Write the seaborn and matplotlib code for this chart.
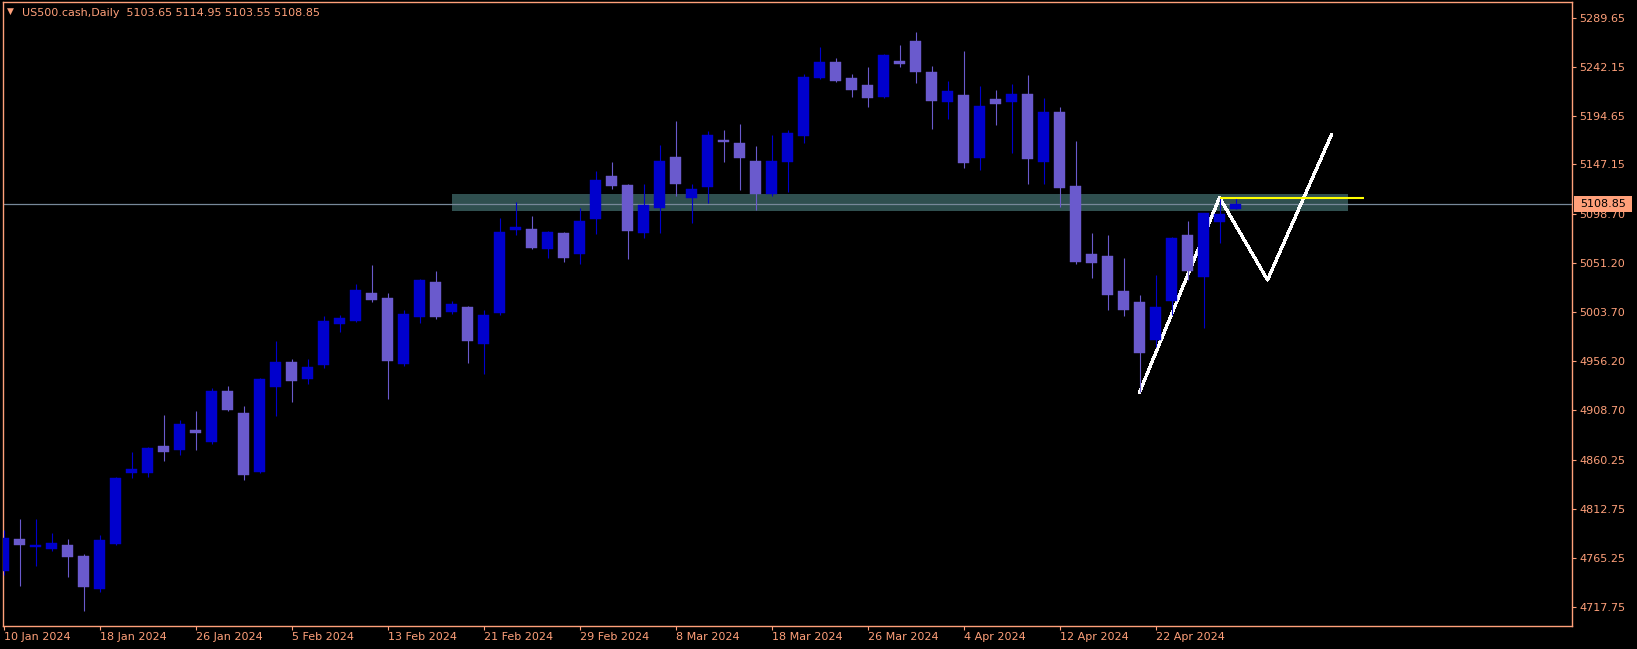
import numpy as np
import pandas as pd
import matplotlib
matplotlib.use("Agg")
import matplotlib.pyplot as plt
import matplotlib.transforms as mtransforms
from matplotlib.patches import Rectangle
from matplotlib.ticker import FixedLocator
import seaborn as sns

# ---------------- data ----------------
opens = [4752.4, 4783.4, 4775.7, 4773.7, 4777.6, 4767.0, 4734.9, 4778.6, 4847.5, 4847.5,
         4873.8, 4869.9, 4889.3, 4877.6, 4927.2, 4905.8, 4848.5, 4931.0, 4955.3, 4938.8,
         4952.4, 4992.2, 4995.2, 5022.3, 5017.5, 4953.4, 4999.0, 5033.0, 5003.9, 5008.7,
         4972.8, 5002.9, 5083.5, 5084.5, 5065.1, 5080.6, 5060.2, 5094.2, 5136.0, 5127.2,
         5080.6, 5104.9, 5154.4, 5114.6, 5125.3, 5170.9, 5168.0, 5150.5, 5118.5, 5149.6,
         5174.8, 5231.1, 5246.7, 5231.1, 5224.3, 5212.7, 5247.6, 5267.1, 5236.9, 5207.8,
         5214.6, 5153.5, 5210.7, 5207.8, 5215.6, 5149.6, 5198.1, 5126.3, 5060.2, 5058.3,
         5024.3, 5013.6, 4976.7, 5014.6, 5078.7, 5037.9, 5091.3, 5103.65]
highs = [4792.2, 4802.8, 4802.8, 4789.3, 4783.4, 4768.9, 4787.3, 4843.6, 4867.9, 4872.8,
         4903.9, 4899.0, 4907.7, 4930.1, 4932.0, 4912.6, 4939.5, 4975.7, 4958.2, 4958.2,
         5000.0, 5001.0, 5031.1, 5049.5, 5022.3, 5005.8, 5035.9, 5043.7, 5014.6, 5009.5,
         5005.8, 5095.2, 5110.7, 5097.1, 5082.5, 5081.6, 5104.9, 5140.8, 5149.6, 5128.2,
         5128.2, 5166.1, 5189.4, 5128.2, 5179.7, 5180.6, 5186.5, 5165.1, 5175.8, 5180.6,
         5235.0, 5261.3, 5250.6, 5235.0, 5241.8, 5254.5, 5263.2, 5275.8, 5242.8, 5228.2,
         5257.4, 5223.4, 5219.5, 5225.3, 5234.0, 5211.7, 5203.0, 5170.0, 5080.6, 5078.7,
         5056.3, 5020.4, 5039.8, 5076.7, 5092.3, 5100.5, 5114.6, 5114.95]
lows = [4748.5, 4737.8, 4757.2, 4771.8, 4746.5, 4713.5, 4731.9, 4778.0, 4842.7, 4843.6,
        4859.2, 4865.0, 4869.9, 4875.7, 4907.5, 4840.7, 4847.5, 4902.9, 4916.5, 4934.0,
        4949.5, 4984.5, 4994.2, 5013.6, 4919.4, 4951.4, 4993.2, 4997.1, 5001.9, 4954.4,
        4943.7, 5001.0, 5078.7, 5065.1, 5056.3, 5052.5, 5050.5, 5079.6, 5123.4, 5055.4,
        5075.8, 5080.6, 5116.5, 5090.3, 5109.7, 5149.6, 5122.4, 5102.9, 5116.5, 5120.4,
        5168.0, 5230.0, 5227.3, 5212.7, 5203.0, 5212.0, 5241.8, 5226.3, 5181.6, 5191.3,
        5143.7, 5141.8, 5185.5, 5158.3, 5128.2, 5128.2, 5105.9, 5050.5, 5036.9, 5005.8,
        5000.0, 4926.2, 4969.9, 5001.0, 5034.9, 4988.3, 5070.9, 5103.55]
closes = [4784.4, 4777.6, 4777.6, 4779.6, 4766.0, 4736.8, 4782.5, 4842.7, 4851.4, 4871.8,
          4867.9, 4895.1, 4886.4, 4927.2, 4908.7, 4845.6, 4938.8, 4955.3, 4936.9, 4950.5,
          4995.2, 4998.1, 5025.3, 5015.6, 4956.3, 5001.9, 5035.0, 4999.0, 5011.7, 4975.7,
          5001.0, 5081.6, 5086.5, 5066.0, 5081.6, 5056.3, 5092.3, 5132.1, 5126.3, 5082.5,
          5107.8, 5150.5, 5128.2, 5123.4, 5175.8, 5169.0, 5153.5, 5118.5, 5150.5, 5177.7,
          5232.1, 5246.7, 5228.2, 5219.5, 5211.7, 5253.5, 5244.7, 5236.9, 5208.8, 5218.5,
          5148.6, 5203.9, 5205.9, 5215.6, 5152.5, 5198.1, 5124.3, 5052.5, 5051.5, 5020.4,
          5005.8, 4964.1, 5008.7, 5075.8, 5043.7, 5100.0, 5099.1, 5108.85]

date_labels = ["10 Jan 2024", "18 Jan 2024", "26 Jan 2024", "5 Feb 2024", "13 Feb 2024",
               "21 Feb 2024", "29 Feb 2024", "8 Mar 2024", "18 Mar 2024", "26 Mar 2024",
               "4 Apr 2024", "12 Apr 2024", "22 Apr 2024"]
y_tick_values = [5289.65, 5242.15, 5194.65, 5147.15, 5098.70, 5051.20, 5003.70,
                 4956.20, 4908.70, 4860.25, 4812.75, 4765.25, 4717.75]

symbol_title = "US500.cash,Daily"
last_ohlc = [5103.65, 5114.95, 5103.55, 5108.85]
bid_price = 5108.85

zone_bars = [28, 84]
zone_prices = [5102.3, 5118.5]
zigzag_bars = [71, 76, 79, 83]
zigzag_prices = [4925.9, 5114.95, 5035.0, 5176.1]
level_bars = [76, 85]
level_price = 5114.95

# ---------------- style ----------------
sns.set_style("dark")
plt.rcParams['font.family'] = ['DejaVu Sans']

FG = '#FFA07A'
BULL = '#0000CD'
BEAR = '#6A5ACD'
W, H = 1637, 649

fig = plt.figure(figsize=(W / 100, H / 100), dpi=100, facecolor='black')
ax = fig.add_axes([2.5 / W, 23 / H, 1569.5 / W, 624 / H])
ax.set_facecolor('black')
ax.grid(False)

df = pd.DataFrame(dict(open=opens, high=highs, low=lows, close=closes))
df['bar'] = np.arange(len(df))
bull = df['close'] >= df['open']
colors = np.where(bull, BULL, BEAR)

# zone rectangle
ax.add_patch(Rectangle((zone_bars[0], zone_prices[0]), zone_bars[1] - zone_bars[0],
                       zone_prices[1] - zone_prices[0], facecolor='#2F4F4F',
                       edgecolor='none', zorder=1))
# bid line
ax.axhline(bid_price, color='#778899', lw=0.9, zorder=2)

# zigzag projection
sns.lineplot(x=zigzag_bars, y=zigzag_prices, sort=False, estimator=None, color='white',
             lw=1.6, ax=ax, zorder=3, antialiased=False)

# candles
ax.vlines(df['bar'], df['low'], df['high'], colors=colors, lw=0.8, zorder=4)
body_low = np.minimum(df['open'], df['close'])
body_h = np.maximum(np.abs(df['close'] - df['open']), 1.5)
ax.bar(df['bar'], body_h, bottom=body_low, width=0.68, color=colors, edgecolor=colors,
       linewidth=0.3, zorder=5)

# yellow level
ax.plot(level_bars, [level_price, level_price], color='#FFFF00', lw=1.5, zorder=6,
        solid_capstyle='butt')

# axes limits
ax.set_xlim(-0.0625, 98.03)
ax.set_ylim(4698.9, 5304.95)

for s in ax.spines.values():
    s.set_color(FG)
    s.set_linewidth(1.0)
    s.set_visible(True)

ax.yaxis.tick_right()
ax.yaxis.set_major_locator(FixedLocator(y_tick_values))
ax.set_yticklabels([f"{v:.2f}" for v in y_tick_values])
ax.tick_params(axis='y', which='both', left=False, right=True, labelleft=False,
               labelright=True, colors=FG, length=3, width=0.8, pad=2, labelsize=8)

ax.set_xticks(np.arange(len(date_labels)) * 6)
ax.set_xticklabels(date_labels)
ax.tick_params(axis='x', bottom=True, colors=FG, length=3, width=0.8, pad=1.5, labelsize=8)
for lbl in ax.get_xticklabels():
    lbl.set_horizontalalignment('left')

# bid price label box
trans = mtransforms.blended_transform_factory(ax.transAxes, ax.transData)
box_x0 = (1574 - 2.5) / 1569.5
box_x1 = (1632 - 2.5) / 1569.5
ax.add_patch(Rectangle((box_x0, bid_price - 7.8), box_x1 - box_x0, 15.6, transform=trans,
                       facecolor=FG, edgecolor='none', clip_on=False, zorder=10))
ax.text((box_x0 + box_x1) / 2, bid_price, f"{bid_price:.2f}", transform=trans,
        ha='center', va='center', color='black', fontsize=8, zorder=11, clip_on=False)

# header
fig.text(21.7 / W, 1 - 12.7 / H,
         f"{symbol_title}  " + " ".join(f"{v:.2f}" for v in last_ohlc),
         color=FG, fontsize=8, va='center', ha='left')
fig.text(7.0 / W, 1 - 11.5 / H, "\u25BC", color=FG, fontsize=6.5, va='center', ha='left')

fig.savefig('out.png', dpi=100, facecolor='black')
